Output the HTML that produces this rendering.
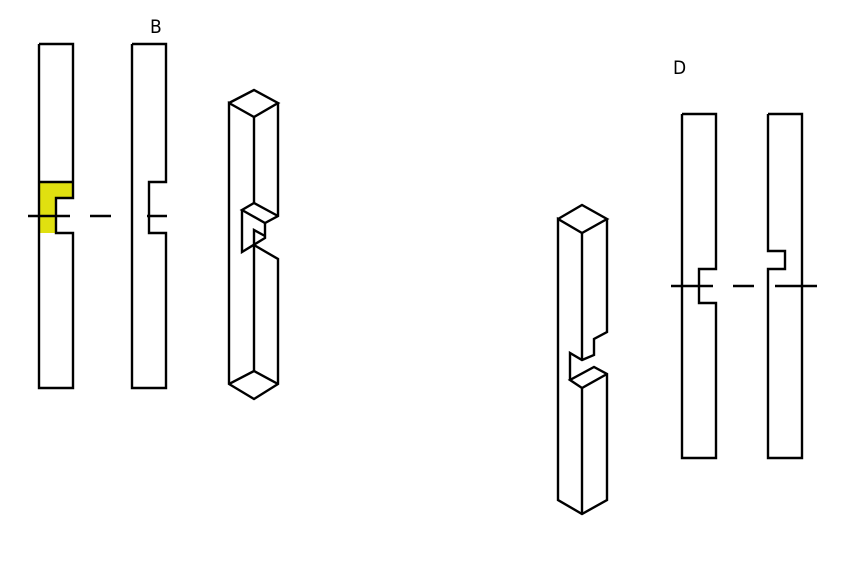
<!DOCTYPE html><html><head><style>body{margin:0;background:#fff}svg{display:block}</style></head><body>
<svg width="856" height="562" viewBox="0 0 856 562" xmlns="http://www.w3.org/2000/svg" fill="none" stroke="#000" stroke-width="2.4" stroke-linejoin="miter">
<text x="150" y="33" font-family="DejaVu Sans, sans-serif" font-size="19" fill="#000" stroke="none" transform="translate(150 0) scale(0.9 1) translate(-150 0)">B</text>
<text x="673" y="74" font-family="DejaVu Sans, sans-serif" font-size="19" fill="#000" stroke="none" transform="translate(673 0) scale(0.9 1) translate(-673 0)">D</text>
<polygon points="39,182 73,182 73,198 56,198 56,233 39,233" fill="#e0e010" stroke="none"/>
<polyline points="39,44 73,44 73,198 56,198 56,233 73,233 73,388 39,388 39,44"/>
<line x1="39" y1="182" x2="73" y2="182"/>
<line x1="28" y1="216" x2="70" y2="216"/><line x1="90" y1="216" x2="111" y2="216"/>
<polyline points="132,44 166,44 166,182 149,182 149,233 166,233 166,388 132,388 132,44"/>
<line x1="147" y1="216" x2="167" y2="216"/>
<polyline points="229,103 254,90 278,103 254,117 229,103 229,384 254,399 278,384 278,259 254,245"/>
<polyline points="278,103 278,216 265,223 242,210 254,203 278,216"/>
<line x1="254" y1="117" x2="254" y2="203"/>
<polyline points="265,223 265,238 242,252 242,210"/>
<polyline points="254,245 254,230 265,236"/>
<line x1="254" y1="245" x2="254" y2="371"/>
<polyline points="229,384 254,371 278,384"/>
<polyline points="558,219 582,205 607,219 582,233 558,219 558,500 582,514 607,500 607,374 594,367 570,380 582,388 607,374"/>
<polyline points="607,219 607,332 594,339 594,355 582,360 570,353 570,380"/>
<line x1="582" y1="233" x2="582" y2="360"/>
<line x1="582" y1="388" x2="582" y2="514"/>
<polyline points="682,114 716,114 716,269 699,269 699,303 716,303 716,458 682,458 682,114"/>
<line x1="671" y1="286" x2="713" y2="286"/><line x1="733" y1="286" x2="754" y2="286"/>
<polyline points="768,114 802,114 802,458 768,458 768,269 785,269 785,251 768,251 768,114"/>
<line x1="775" y1="286" x2="817" y2="286"/>
</svg></body></html>
